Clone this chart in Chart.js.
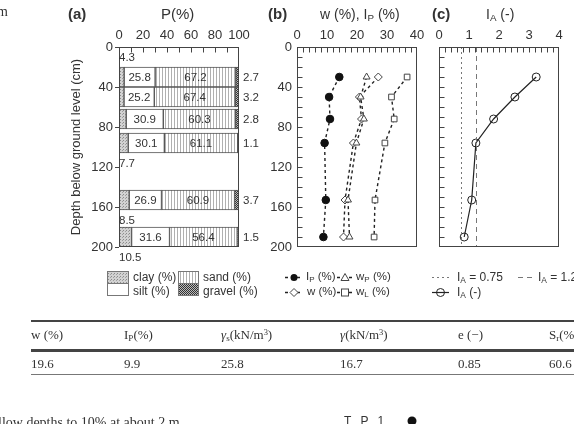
<!DOCTYPE html>
<html>
<head>
<meta charset="utf-8">
<script src="https://cdn.jsdelivr.net/npm/chart.js@4.4.0/dist/chart.umd.min.js"></script>
<style>
body { margin: 0; background: #fff; }
#page { position: relative; width: 574px; height: 424px; overflow: hidden; font-family: "Liberation Sans", Arial, sans-serif; color: #333; }
canvas { position: absolute; }
.t { position: absolute; white-space: nowrap; line-height: 1; }
.h { font-weight: bold; font-size: 15px; }
.lg { font-size: 12px; }
.serif { font-family: "Liberation Serif", "Times New Roman", serif; font-size: 13px; color: #333; }
.rule { position: absolute; left: 31px; right: 0; background: #444; }
sub { font-size: 0.7em; vertical-align: -0.25em; }
sup { font-size: 0.65em; vertical-align: 0.45em; }
</style>
</head>
<body>
<div id="page">
  <canvas id="ca" width="200" height="252" style="left:60px;top:20px"></canvas>
  <canvas id="cb" width="190" height="252" style="left:240px;top:20px"></canvas>
  <canvas id="cc" width="154" height="252" style="left:420px;top:20px"></canvas>

  <div class="t h" style="left:68px;top:6px">(a)</div>
  <div class="t" style="left:161px;top:6px;font-size:15px">P(%)</div>
  <div class="t h" style="left:268px;top:6px">(b)</div>
  <div class="t" style="left:320px;top:7px;font-size:14px">w (%), I<sub>P</sub> (%)</div>
  <div class="t h" style="left:432px;top:6px">(c)</div>
  <div class="t" style="left:486px;top:7px;font-size:14px">I<sub>A</sub> (-)</div>

  <svg width="574" height="424" style="position:absolute;left:0;top:0">
    <defs>
      <pattern id="pClay" width="3" height="3" patternUnits="userSpaceOnUse">
        <rect width="3" height="3" fill="#d2d2d2"/><rect width="1" height="1" fill="#8c8c8c"/><rect x="2" y="1" width="1" height="1" fill="#a0a0a0"/>
      </pattern>
      <pattern id="pSand" width="3" height="3" patternUnits="userSpaceOnUse">
        <rect width="3" height="3" fill="#fff"/><rect width="1" height="3" fill="#b0b0b0"/>
      </pattern>
      <pattern id="pGrav" width="2" height="2" patternUnits="userSpaceOnUse">
        <rect width="2" height="2" fill="#bbb"/><rect width="1" height="1" fill="#333"/><rect x="1" y="1" width="1" height="1" fill="#333"/>
      </pattern>
    </defs>
    <g stroke="#777" stroke-width="1">
      <rect x="107.5" y="271.5" width="21" height="12" fill="url(#pClay)"/>
      <rect x="107.5" y="283.5" width="21" height="12" fill="#fff"/>
      <rect x="178.5" y="271.5" width="20" height="12" fill="url(#pSand)"/>
      <rect x="178.5" y="283.5" width="20" height="12" fill="url(#pGrav)"/>
    </g>
    <g stroke="#222" stroke-width="1.3" stroke-dasharray="3,3" fill="none">
      <line x1="285" y1="277.5" x2="303" y2="277.5"/>
      <line x1="285" y1="292.5" x2="303" y2="292.5"/>
      <line x1="337" y1="277.5" x2="353" y2="277.5"/>
      <line x1="337" y1="292.5" x2="353" y2="292.5"/>
    </g>
    <circle cx="294" cy="277.5" r="3.5" fill="#111"/>
    <path d="M294 288.5 L298 292.5 L294 296.5 L290 292.5 Z" fill="#fff" stroke="#444"/>
    <path d="M345 273.5 L349 280.5 L341 280.5 Z" fill="#fff" stroke="#444"/>
    <rect x="341.5" y="289" width="7" height="7" fill="#fff" stroke="#444"/>
    <line x1="432" y1="277.5" x2="449" y2="277.5" stroke="#777" stroke-width="1" stroke-dasharray="2,3"/>
    <line x1="518" y1="277.5" x2="534" y2="277.5" stroke="#777" stroke-width="1" stroke-dasharray="5,4"/>
    <line x1="432" y1="292.5" x2="449" y2="292.5" stroke="#222" stroke-width="1.2"/>
    <circle cx="440.5" cy="292.5" r="4" fill="none" stroke="#222"/>
    <circle cx="412" cy="421" r="4.5" fill="#111"/>
  </svg>

  <div class="t lg" style="left:133px;top:271px">clay (%)</div>
  <div class="t lg" style="left:133px;top:285px">silt (%)</div>
  <div class="t lg" style="left:203px;top:271px">sand (%)</div>
  <div class="t lg" style="left:203px;top:285px">gravel (%)</div>
  <div class="t lg" style="left:306px;top:271px;font-size:11.5px">I<sub>P</sub> (%)</div>
  <div class="t lg" style="left:307px;top:286px;font-size:11.5px">w (%)</div>
  <div class="t lg" style="left:356px;top:271px;font-size:11.5px">w<sub>P</sub> (%)</div>
  <div class="t lg" style="left:356px;top:286px;font-size:11.5px">w<sub>L</sub> (%)</div>
  <div class="t lg" style="left:457px;top:271px">I<sub>A</sub> = 0.75</div>
  <div class="t lg" style="left:538px;top:271px">I<sub>A</sub> = 1.25</div>
  <div class="t lg" style="left:457px;top:286px">I<sub>A</sub> (-)</div>

  <div class="rule" style="top:320px;height:1.5px"></div>
  <div class="t serif" style="left:31px;top:328px">w (%)</div>
  <div class="t serif" style="left:124px;top:328px">I<sub>P</sub>(%)</div>
  <div class="t serif" style="left:221px;top:328px"><i>γ</i><sub>s</sub>(kN/m<sup>3</sup>)</div>
  <div class="t serif" style="left:340px;top:328px"><i>γ</i>(kN/m<sup>3</sup>)</div>
  <div class="t serif" style="left:458px;top:328px">e (−)</div>
  <div class="t serif" style="left:549px;top:328px">S<sub>r</sub>(%)</div>
  <div class="rule" style="top:349px;height:2.5px"></div>
  <div class="t serif" style="left:31px;top:357px">19.6</div>
  <div class="t serif" style="left:124px;top:357px">9.9</div>
  <div class="t serif" style="left:221px;top:357px">25.8</div>
  <div class="t serif" style="left:340px;top:357px">16.7</div>
  <div class="t serif" style="left:458px;top:357px">0.85</div>
  <div class="t serif" style="left:549px;top:357px">60.6</div>
  <div class="rule" style="top:374px;height:1px;background:#777"></div>

  <div class="t serif" style="left:-3px;top:5px;font-size:14px">m</div>
  <div class="t serif" style="left:-2px;top:416px;font-size:14px">llow depths to 10% at about 2 m</div>
  <div class="t" style="left:344px;top:415px;font-size:12px;letter-spacing:3px">T P 1</div>
</div>

<script>
// sampling depths (cm) shared by all three panels
const depth = [30, 50, 72, 96, 153, 190];

// (a) grain size distribution, %
const clay = [4.3, 4.2, 6.0, 7.7, 8.5, 10.5];
const silt = [25.8, 25.2, 30.9, 30.1, 26.9, 31.6];
const sand = [67.2, 67.4, 60.3, 61.1, 60.9, 56.4];
const gravel = [2.7, 3.2, 2.8, 1.1, 3.7, 1.5];
const clayNote = ["above", null, null, "below", "below", "below"];

// (b) consistency, %
const ip = [14.1, 10.7, 11.0, 9.2, 9.6, 8.8];
const wp = [23.2, 21.2, 22.3, 19.8, 17.0, 17.5];
const w = [27.1, 20.8, 21.5, 18.8, 16.0, 15.5];
const wl = [36.7, 31.5, 32.4, 29.3, 26.0, 25.7];

// (c) activity
const ia = [3.24, 2.53, 1.82, 1.23, 1.09, 0.84];
const iaLow = 0.75;
const iaHigh = 1.25;

Chart.defaults.font.family = '"Liberation Sans", Arial, sans-serif';
Chart.defaults.color = "#333";

// box round the plot area plus small ticks pointing inwards
const frame = {
  id: "frame",
  afterDatasetsDraw(chart, args, o) {
    const { ctx, chartArea: a, scales: { x, y } } = chart;
    const L = Math.round(a.left) + 0.5, T = Math.round(a.top) + 0.5;
    const R = Math.round(a.right) - 0.5, B = Math.round(a.bottom) - 0.5;
    ctx.save();
    ctx.strokeStyle = "#444";
    ctx.lineWidth = 1;
    ctx.strokeRect(L, T, R - L, B - T);
    ctx.beginPath();
    if (o.xStep) {
      const n = Math.round((x.max - x.min) / o.xStep);
      for (let i = 1; i < n; i++) {
        const px = Math.round(x.getPixelForValue(x.min + i * o.xStep)) + 0.5;
        ctx.moveTo(px, T);
        ctx.lineTo(px, T + o.len);
      }
    }
    if (o.yStep) {
      const n = Math.round((y.max - y.min) / o.yStep);
      for (let i = 1; i < n; i++) {
        const py = Math.round(y.getPixelForValue(y.min + i * o.yStep)) + 0.5;
        ctx.moveTo(L, py);
        ctx.lineTo(L + o.len, py);
      }
    }
    ctx.stroke();
    ctx.restore();
  }
};

const base = {
  responsive: false,
  animation: false,
  events: [],
};

const topAxis = (max, step) => ({
  type: "linear", position: "top", min: 0, max: max,
  ticks: { stepSize: step, padding: 4, font: { size: 13 }, maxRotation: 0, autoSkip: false },
  grid: { display: false, drawTicks: false },
  border: { display: false },
  afterFit: s => { s.height = 27; },
});

// ---------- (a) ----------
const ctxA = document.getElementById("ca").getContext("2d");

function tile(wd, ht, draw) {
  const c = document.createElement("canvas");
  c.width = wd;
  c.height = ht;
  draw(c.getContext("2d"));
  return ctxA.createPattern(c, "repeat");
}
const clayFill = tile(3, 3, g => {
  g.fillStyle = "#d2d2d2"; g.fillRect(0, 0, 3, 3);
  g.fillStyle = "#8c8c8c"; g.fillRect(0, 0, 1, 1);
  g.fillStyle = "#a0a0a0"; g.fillRect(2, 1, 1, 1);
});
const sandFill = tile(3, 3, g => {
  g.fillStyle = "#fff"; g.fillRect(0, 0, 3, 3);
  g.fillStyle = "#b0b0b0"; g.fillRect(0, 0, 1, 3);
});
const gravFill = tile(2, 2, g => {
  g.fillStyle = "#bbb"; g.fillRect(0, 0, 2, 2);
  g.fillStyle = "#333"; g.fillRect(0, 0, 1, 1); g.fillRect(1, 1, 1, 1);
});

const parts = [clay, silt, sand, gravel];
function seg(k) {
  return depth.map((d, i) => {
    let s = 0;
    for (let j = 0; j < k; j++) s += parts[j][i];
    return { y: d, x: [s, s + parts[k][i]] };
  });
}
const barStyle = { barThickness: 20, grouped: false, borderWidth: 1, borderColor: "#555", borderSkipped: false };

const barLabels = {
  id: "barLabels",
  afterDatasetsDraw(chart) {
    const { ctx, scales: { x, y }, chartArea: a } = chart;
    ctx.save();
    ctx.font = '11.5px "Liberation Sans", Arial, sans-serif';
    ctx.fillStyle = "#333";
    ctx.textBaseline = "middle";
    depth.forEach((d, i) => {
      const py = y.getPixelForValue(d) + 1;
      ctx.textAlign = "center";
      ctx.fillText(silt[i].toFixed(1), x.getPixelForValue(clay[i] + silt[i] / 2), py);
      ctx.fillText(sand[i].toFixed(1), x.getPixelForValue(clay[i] + silt[i] + sand[i] / 2), py);
      ctx.textAlign = "left";
      ctx.fillText(gravel[i].toFixed(1), a.right + 4, py);
      if (clayNote[i]) {
        const dy = clayNote[i] === "above" ? -20 : 20;
        ctx.fillText(clay[i].toFixed(1), a.left, y.getPixelForValue(d + dy) + 1);
      }
    });
    ctx.restore();
  }
};

new Chart(ctxA, {
  type: "bar",
  data: {
    datasets: [
      { label: "clay (%)", data: seg(0), backgroundColor: clayFill, ...barStyle },
      { label: "silt (%)", data: seg(1), backgroundColor: "#fff", ...barStyle },
      { label: "sand (%)", data: seg(2), backgroundColor: sandFill, ...barStyle },
      { label: "gravel (%)", data: seg(3), backgroundColor: gravFill, ...barStyle },
    ],
  },
  options: {
    ...base,
    indexAxis: "y",
    layout: { padding: { left: 0, right: 21, top: 0, bottom: 25 } },
    plugins: {
      legend: { display: false },
      tooltip: { enabled: false },
      frame: { xStep: 10, len: 5 },
    },
    scales: {
      x: topAxis(100, 20),
      y: {
        type: "linear", reverse: true, min: 0, max: 200, offset: false,
        ticks: { stepSize: 40, padding: 2, font: { size: 13 } },
        grid: { offset: false, drawOnChartArea: false, tickLength: 4, color: "#444" },
        border: { display: false },
        title: { display: true, text: "Depth below ground level (cm)", font: { size: 13 }, padding: { top: 9, bottom: 0 } },
        afterFit: s => { s.width = 59; },
      },
    },
  },
  plugins: [frame, barLabels],
});

// ---------- (b) ----------
const pts = arr => depth.map((d, i) => ({ x: arr[i], y: d }));
const dashed = { showLine: true, borderColor: "#222", borderWidth: 1.4, borderDash: [3, 3], pointBorderColor: "#444", pointBorderWidth: 1 };

new Chart(document.getElementById("cb"), {
  type: "scatter",
  data: {
    datasets: [
      { label: "Ip (%)", data: pts(ip), ...dashed, pointStyle: "circle", pointRadius: 3.8, pointBackgroundColor: "#111", pointBorderColor: "#111" },
      { label: "wP (%)", data: pts(wp), ...dashed, pointStyle: "triangle", pointRadius: 4, pointBackgroundColor: "#fff" },
      { label: "w (%)", data: pts(w), ...dashed, pointStyle: "rectRot", pointRadius: 4, pointBackgroundColor: "#fff" },
      { label: "wL (%)", data: pts(wl), ...dashed, pointStyle: "rect", pointRadius: 4, pointBackgroundColor: "#fff" },
    ],
  },
  options: {
    ...base,
    layout: { padding: { left: 0, right: 13, top: 0, bottom: 25 } },
    plugins: {
      legend: { display: false },
      tooltip: { enabled: false },
      frame: { xStep: 2, yStep: 10, len: 5 },
    },
    scales: {
      x: topAxis(40, 10),
      y: {
        type: "linear", reverse: true, min: 0, max: 200,
        ticks: { stepSize: 40, padding: 5, font: { size: 13 } },
        grid: { display: false, drawTicks: false },
        border: { display: false },
        afterFit: s => { s.width = 57; },
      },
    },
  },
  plugins: [frame],
});

// ---------- (c) ----------
new Chart(document.getElementById("cc"), {
  type: "scatter",
  data: {
    datasets: [
      { label: "IA = 0.75", data: [{ x: iaLow, y: 0 }, { x: iaLow, y: 200 }], showLine: true, pointRadius: 0, borderColor: "#777", borderWidth: 1, borderDash: [2, 3] },
      { label: "IA = 1.25", data: [{ x: iaHigh, y: 0 }, { x: iaHigh, y: 200 }], showLine: true, pointRadius: 0, borderColor: "#777", borderWidth: 1, borderDash: [5, 4] },
      { label: "IA (-)", data: pts(ia), showLine: true, borderColor: "#222", borderWidth: 1.2, pointStyle: "circle", pointRadius: 4, pointBackgroundColor: "rgba(0,0,0,0)", pointBorderColor: "#222", pointBorderWidth: 1 },
    ],
  },
  options: {
    ...base,
    layout: { padding: { left: 0, right: 15, top: 0, bottom: 25 } },
    plugins: {
      legend: { display: false },
      tooltip: { enabled: false },
      frame: { xStep: 0.2, yStep: 10, len: 5 },
    },
    scales: {
      x: topAxis(4, 1),
      y: {
        type: "linear", reverse: true, min: 0, max: 200,
        ticks: { display: false },
        grid: { display: false, drawTicks: false },
        border: { display: false },
        afterFit: s => { s.width = 19; },
      },
    },
  },
  plugins: [frame],
});
</script>
</body>
</html>
